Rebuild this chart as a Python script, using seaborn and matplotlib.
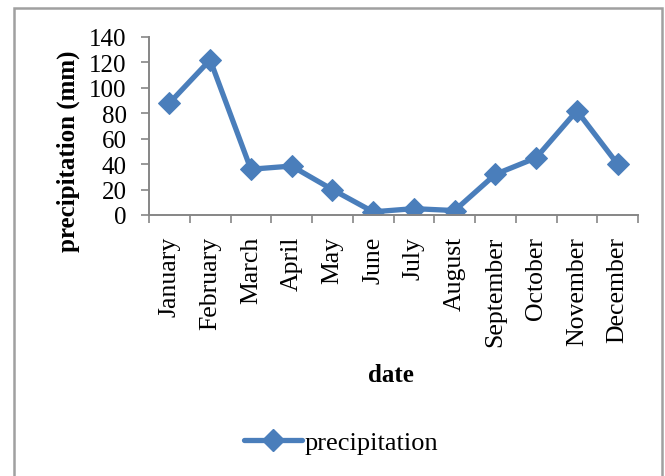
import matplotlib.pyplot as plt
import matplotlib.lines as mlines
from matplotlib.patches import Rectangle
from matplotlib.ticker import FixedLocator
import seaborn as sns
import pandas as pd
import numpy as np

months = ['January', 'February', 'March', 'April', 'May', 'June',
          'July', 'August', 'September', 'October', 'November', 'December']
precipitation = [88, 122, 36, 38.5, 20, 2.5, 5, 3.5, 32, 45, 82, 40]
y_ticks = [0, 20, 40, 60, 80, 100, 120, 140]

sns.set_style('white')
plt.rcParams['font.family'] = ['Liberation Serif', 'DejaVu Serif']
plt.rcParams['text.color'] = 'black'
plt.rcParams['axes.labelcolor'] = 'black'

line_color = '#4a7ebb'
axis_color = '#868686'

df = pd.DataFrame({'date': months, 'precipitation': precipitation})

fig = plt.figure(figsize=(6.65, 4.77), dpi=100)
W, H = 665, 477

# chart frame (open at the bottom like the source screenshot)
fig.patches.append(Rectangle((14 / W, -0.05), (662 - 14) / W, 1.05 - 9 / H,
                             transform=fig.transFigure, fill=False,
                             edgecolor='#a0a0a0', linewidth=1.8))

ax = fig.add_axes([149 / W, 1 - 216 / H, (638 - 149) / W, (216 - 38) / H])

sns.lineplot(data=df, x='date', y='precipitation', ax=ax, color=line_color,
             linewidth=3.8, marker='D', markersize=11,
             markeredgecolor=line_color, sort=False)

ax.set_xlim(-0.5, len(months) - 0.5)
ax.set_ylim(0, 140)
ax.set_yticks(y_ticks)
ax.set_xticks(range(len(months)))
ax.set_xticklabels(months, rotation=90, fontsize=18.5)
ax.xaxis.set_minor_locator(FixedLocator(np.arange(-0.5, len(months), 1)))
ax.tick_params(axis='x', which='major', length=0, pad=15, labelcolor='black')
ax.tick_params(axis='x', which='minor', length=6, width=1.2,
               color=axis_color, direction='out', bottom=True)
ax.tick_params(axis='y', length=6, width=1.2, color=axis_color,
               direction='out', left=True, labelsize=18, pad=10,
               labelcolor='black')

for s in ['top', 'right']:
    ax.spines[s].set_visible(False)
for s in ['left', 'bottom']:
    ax.spines[s].set_color(axis_color)
    ax.spines[s].set_linewidth(1.4)

ax.set_xlabel('date', fontsize=18, fontweight='bold')
ax.xaxis.set_label_coords((391 - 149) / 489, (216 - 364) / 178)
ax.set_ylabel('precipitation (mm)', fontsize=18, fontweight='bold')
ax.yaxis.set_label_coords((80 - 149) / 489, (216 - 151) / 178)

handle = mlines.Line2D([], [], color=line_color, linewidth=3.8, marker='D',
                       markersize=11, label='precipitation')
fig.legend(handles=[handle], loc='center', bbox_to_anchor=(341 / W, 1 - 443 / H),
           frameon=False, fontsize=19, handlelength=2.2, handletextpad=0.1)

fig.savefig('out.png', dpi=100)
